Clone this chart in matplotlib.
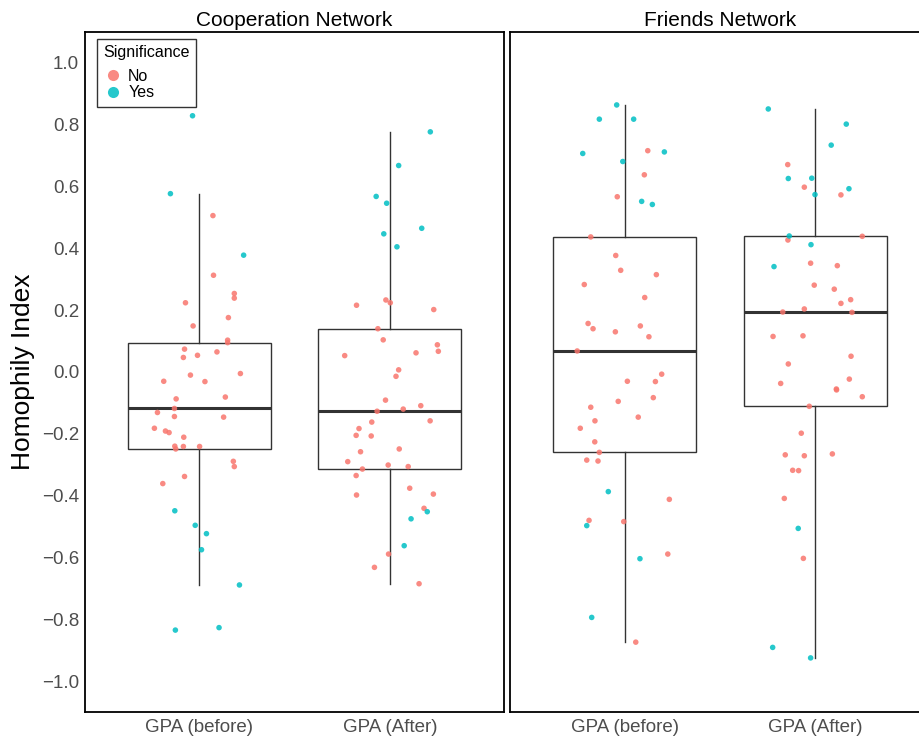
import matplotlib
matplotlib.use("Agg")
import matplotlib.pyplot as plt
import numpy as np

plt.rcParams['font.family'] = ['Liberation Sans', 'DejaVu Sans']

groups = ["GPA (before)", "GPA (After)"]
panels = ["Cooperation Network", "Friends Network"]
sig_labels = ["No", "Yes"]
sig_colors = ["#F8766D", "#00BFC4"]
y_ticks = [-1.0, -0.8, -0.6, -0.4, -0.2, 0.0, 0.2, 0.4, 0.6, 0.8, 1.0]

coop_before = [0.829, 0.577, 0.506, 0.378, 0.313, 0.254, 0.239, 0.224, 0.176, 0.149,
               0.103, 0.095, 0.074, 0.065, 0.054, 0.047, -0.010, -0.005, -0.030, -0.031,
               -0.087, -0.081, -0.118, -0.131, -0.144, -0.146, -0.182, -0.191, -0.196, -0.211,
               -0.240, -0.241, -0.241, -0.249, -0.289, -0.306, -0.338, -0.361, -0.449, -0.496,
               -0.523, -0.575, -0.689, -0.827, -0.835]
coop_before_jit = [-0.035, -0.151, 0.072, 0.233, 0.075, 0.184, 0.184, -0.072, 0.153, -0.032,
                   0.149, 0.149, -0.077, 0.093, -0.009, -0.083, -0.046, 0.216, -0.186, 0.030,
                   -0.121, 0.137, -0.130, -0.219, -0.130, 0.128, -0.235, -0.177, -0.158, -0.081,
                   -0.128, -0.083, 0.002, -0.123, 0.179, 0.184, -0.077, -0.191, -0.128, -0.021,
                   0.038, 0.012, 0.211, 0.104, -0.125]
coop_before_sig = [1, 1, 0, 1] + [0] * 34 + [1] * 7

coop_after = [0.777, 0.668, 0.568, 0.546, 0.465, 0.447, 0.405, 0.233, 0.224, 0.216,
              0.202, 0.140, 0.104, 0.088, 0.067, 0.062, 0.053, 0.007, -0.014, -0.091,
              -0.109, -0.120, -0.127, -0.158, -0.162, -0.183, -0.205, -0.207, -0.249, -0.258,
              -0.290, -0.301, -0.306, -0.314, -0.335, -0.376, -0.398, -0.395, -0.441, -0.452,
              -0.475, -0.562, -0.589, -0.632, -0.685]
coop_after_jit = [0.212, 0.046, -0.072, -0.017, 0.167, -0.032, 0.037, -0.021, 0.002, -0.175,
                  0.230, -0.063, -0.035, 0.249, 0.254, 0.137, -0.237, 0.046, 0.032, -0.023,
                  0.162, 0.070, -0.067, 0.211, -0.095, -0.162, -0.177, -0.098, 0.049, -0.154,
                  -0.221, -0.009, 0.096, -0.144, -0.177, 0.104, -0.175, 0.228, 0.179, 0.196,
                  0.111, 0.075, -0.007, -0.081, 0.153]
coop_after_sig = [1] * 7 + [0] * 32 + [1] * 3 + [0] * 3

friends_before = [0.864, 0.818, 0.818, 0.716, 0.712, 0.707, 0.681, 0.638, 0.567, 0.552,
                  0.542, 0.437, 0.377, 0.329, 0.315, 0.283, 0.241, 0.157, 0.149, 0.140,
                  0.130, 0.114, 0.068, -0.007, -0.030, -0.031, -0.083, -0.095, -0.114, -0.146,
                  -0.158, -0.182, -0.226, -0.260, -0.285, -0.288, -0.387, -0.412, -0.480, -0.484,
                  -0.497, -0.589, -0.604, -0.794, -0.874]
friends_before_jit = [-0.041, -0.132, 0.048, 0.122, 0.209, -0.219, -0.009, 0.104, -0.038, 0.090,
                      0.146, -0.177, -0.046, -0.020, 0.167, -0.211, 0.106, -0.191, 0.083, -0.165,
                      -0.048, 0.128, -0.248, 0.195, 0.015, 0.162, 0.151, -0.033, -0.177, 0.072,
                      -0.155, -0.232, -0.156, -0.132, -0.198, -0.139, -0.085, 0.235, -0.186, -0.004,
                      -0.198, 0.227, 0.081, -0.172, 0.059]
friends_before_sig = [1, 1, 1, 0, 1, 1, 1, 0, 0, 1, 1] + [0] * 25 + [1, 0, 0, 0, 1, 0, 1, 1, 0]

friends_after = [0.851, 0.802, 0.734, 0.671, 0.626, 0.627, 0.598, 0.593, 0.574, 0.573,
                 0.440, 0.439, 0.427, 0.412, 0.341, 0.352, 0.344, 0.281, 0.268, 0.234,
                 0.222, 0.204, 0.194, 0.193, 0.115, 0.117, 0.051, 0.026, -0.037, -0.023,
                 -0.055, -0.058, -0.080, -0.111, -0.198, -0.268, -0.271, -0.265, -0.318, -0.319,
                 -0.409, -0.506, -0.603, -0.891, -0.925]
friends_after_jit = [-0.246, 0.163, 0.084, -0.144, -0.141, -0.018, -0.057, 0.177, -0.001, 0.135,
                     -0.136, 0.247, -0.143, -0.022, -0.216, -0.024, 0.116, -0.005, 0.100, 0.186,
                     0.135, -0.057, -0.170, 0.193, -0.221, -0.064, 0.188, -0.141, -0.181, 0.179,
                     0.111, 0.112, 0.247, -0.031, -0.073, -0.157, -0.057, 0.090, -0.118, -0.087,
                     -0.162, -0.089, -0.062, -0.223, -0.024]
friends_after_sig = [1, 1, 1, 0, 1, 1, 0, 1, 1, 0, 1, 0, 0, 1, 1] + [0] * 26 + [1, 0, 1, 1]

panel_data = [
    [(coop_before, coop_before_jit, coop_before_sig), (coop_after, coop_after_jit, coop_after_sig)],
    [(friends_before, friends_before_jit, friends_before_sig), (friends_after, friends_after_jit, friends_after_sig)],
]

W, H = 919, 741
fig = plt.figure(figsize=(W / 100, H / 100), dpi=100)
ax1 = fig.add_axes([84.8 / W, 29 / H, 419.5 / W, 680 / H])
ax2 = fig.add_axes([510.1 / W, 29 / H, 419.5 / W, 680 / H])

for ax, title, data in zip([ax1, ax2], panels, panel_data):
    vals = [d[0] for d in data]
    ax.boxplot(vals, positions=[1, 2], widths=0.75, whis=1.5, showfliers=False,
               showcaps=False, patch_artist=True,
               boxprops=dict(facecolor="white", edgecolor="#333333", linewidth=1.0),
               whiskerprops=dict(color="#333333", linewidth=1.0),
               medianprops=dict(color="#333333", linewidth=2.2), zorder=1)
    for i, (y, jit, sig) in enumerate(data):
        y = np.array(y)
        x = i + 1 + np.array(jit)
        sig = np.array(sig)
        for s in [0, 1]:
            m = sig == s
            ax.scatter(x[m], y[m], s=16, color=sig_colors[s], alpha=0.85,
                       edgecolors="none", zorder=3)
    ax.set_xlim(0.4, 2.6)
    ax.set_ylim(-1.1, 1.1)
    ax.set_xticks([1, 2])
    ax.set_xticklabels(groups)
    ax.set_yticks(y_ticks)
    ax.tick_params(length=0, labelsize=13.5, labelcolor="#4D4D4D")
    ax.tick_params(axis="x", pad=5)
    ax.tick_params(axis="y", pad=4)
    for sp in ax.spines.values():
        sp.set_color("black")
        sp.set_linewidth(1.3)
    ax.set_title(title, fontsize=15, pad=4)

ax1.set_yticklabels([f"{v:.1f}".replace("-", "\u2212") for v in y_ticks])
ax2.set_yticklabels([])
ax1.set_ylabel("Homophily Index", fontsize=19, labelpad=5)

handles = [plt.Line2D([], [], marker="o", linestyle="none", markersize=8,
                      markerfacecolor=c, markeredgecolor="none", alpha=0.85)
           for c in sig_colors]
leg = ax1.legend(handles, sig_labels, title="Significance", loc="upper left",
                 bbox_to_anchor=(97 / W, 1 - 39 / H), bbox_transform=fig.transFigure,
                 borderaxespad=0, fontsize=11.5, title_fontsize=11.5, frameon=True,
                 fancybox=False, handletextpad=0.35, labelspacing=0.1, borderpad=0.4,
                 handlelength=1.2)
leg.get_frame().set_edgecolor("black")
leg.get_frame().set_linewidth(1.0)
leg._legend_box.align = "left"
leg._legend_box.sep = 6

fig.savefig("out.png", dpi=100)
